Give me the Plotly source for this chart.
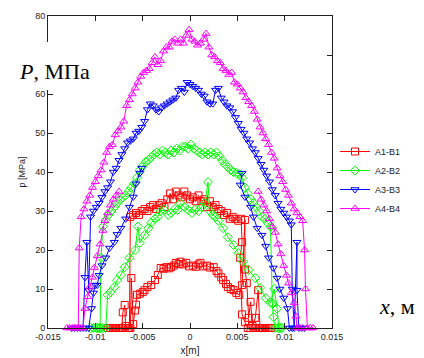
import plotly.graph_objects as go

# ---------------- data ----------------
series_names = ["A1-B1", "A2-B2", "A3-B3", "A4-B4"]
x_tick_vals = [-0.015, -0.01, -0.005, 0, 0.005, 0.01, 0.015]
x_tick_text = ["-0.015", "-0.01", "-0.005", "0", "0.005", "0.01", "0.015"]
y_tick_vals = [0, 10, 20, 30, 40, 50, 60, 70, 80]

# A1-B1 (red) upper profile
a1_outer_x = [-0.0087, -0.0084, -0.0081, -0.0078, -0.0075, -0.0072, -0.0069, -0.0066, -0.0064,
              -0.0063, -0.0060, -0.0057, -0.0054, -0.0051, -0.0048, -0.0045, -0.0042, -0.0039, -0.0036,
              -0.0033, -0.0030, -0.0027, -0.0024, -0.0021, -0.0018, -0.0015, -0.0012, -0.0009, -0.0006,
              -0.0003, 0.0000, 0.0003, 0.0006, 0.0009, 0.0012, 0.0015, 0.0018, 0.0021, 0.0024,
              0.0027, 0.0030, 0.0033, 0.0036, 0.0039, 0.0042, 0.0045, 0.0048, 0.0051, 0.0054,
              0.0055, 0.0053, 0.0055, 0.0058,
              0.0061, 0.0064, 0.0067, 0.0070, 0.0073, 0.0076, 0.0079, 0.0082, 0.0085]
a1_outer_p = [0, 0, 0, 0, 0, 0, 0, 0, 0,
              28.5, 29, 29.5, 29, 30, 30.5, 30, 31, 31.5, 30.5,
              31.5, 32, 31, 33, 34.5, 33, 35, 34, 33.5, 35,
              34, 33, 33.5, 32.5, 34, 32.5, 33, 31, 32.5, 31,
              31.5, 30.5, 30, 29, 29.5, 28, 28.5, 28, 27.5, 28,
              22, 18, 3.5, 1.5,
              0, 0, 0, 0, 0, 0, 0, 0, 0]
# A1-B1 (red) lower profile
a1_inner_x = [-0.0087, -0.0084, -0.0081, -0.0078, -0.0075, -0.0072, -0.0071, -0.0069, -0.0068, -0.0065,
              -0.0063, -0.0062, -0.0060, -0.0058, -0.0057, -0.0056, -0.0053, -0.0050, -0.0048, -0.0045,
              -0.0041, -0.0037, -0.0034, -0.0031, -0.0028, -0.0025, -0.0022, -0.0020, -0.0017, -0.0015,
              -0.0012, -0.0010, -0.0007, -0.0004, -0.0001, 0.0003, 0.0006, 0.0009, 0.0011, 0.0014,
              0.0018, 0.0021, 0.0025, 0.0028, 0.0030, 0.0033, 0.0035, 0.0038, 0.0040, 0.0043,
              0.0046, 0.0049, 0.0052, 0.0055, 0.0058, 0.0058, 0.0060, 0.0062, 0.0064, 0.0066,
              0.0069, 0.0072, 0.0074, 0.0077, 0.0080, 0.0083, 0.0086]
a1_inner_p = [0, 0, 0, 0, 0, 0, 4, 5.9, 0.5, 0,
              0, 12.8, 1, 4.5, 6, 8.5, 8.8, 9.2, 9.7, 10.5,
              11, 12.3, 13.6, 15.4, 15.2, 15.6, 15.3, 15.6, 16, 16.7,
              16.4, 17, 16.3, 16.7, 15.8, 16, 15.7, 16.3, 16.7, 15.8,
              16, 15.5, 15.6, 14.6, 14, 13, 12.3, 11.3, 10.5, 10,
              9.7, 9, 8.5, 11, 27.7, 15, 11.5, 2.6, 6.7, 0.5,
              2.6, 9.7, 0, 0, 0, 0, 0]

# A2-B2 (green) upper profile
a2_outer_x = [-0.0105, -0.0102, -0.0099, -0.0096, -0.0095, -0.0094, -0.0092, -0.0089, -0.0086, -0.0083,
              -0.0080, -0.0077, -0.0074, -0.0071, -0.0068, -0.0065, -0.0062, -0.0059, -0.0056, -0.0053,
              -0.0050, -0.0047, -0.0044, -0.0041, -0.0038, -0.0035, -0.0032, -0.0029, -0.0026, -0.0023,
              -0.0020, -0.0017, -0.0014, -0.0011, -0.0008, -0.0005, -0.0002, 0.0001, 0.0004, 0.0007,
              0.0010, 0.0013, 0.0016, 0.0019, 0.0022, 0.0025, 0.0028, 0.0031, 0.0034, 0.0037,
              0.0040, 0.0043, 0.0046, 0.0049, 0.0052, 0.0055, 0.0058, 0.0061, 0.0064, 0.0067,
              0.0070, 0.0073, 0.0076, 0.0079, 0.0082, 0.0085, 0.0087, 0.0088, 0.0090, 0.0093,
              0.0096]
a2_outer_p = [0, 0, 0, 0, 0, 18, 26, 27.7, 29, 30,
              31, 32, 32.8, 33.5, 34, 35, 36, 37, 38.5, 40.5,
              41.5, 42.6, 43, 43.8, 44.5, 45, 44.5, 45.5, 45, 44.5,
              45.5, 45, 46, 45.5, 46.5, 46.5, 46, 47, 46, 45.5,
              45, 44.5, 45, 44.5, 45, 44.5, 45, 44, 43, 42,
              41.3, 40.5, 40, 39.7, 39.5, 38.5, 36, 34.5, 33, 32,
              31, 30, 28.5, 28, 27, 26, 6.4, 2.8, 0, 0,
              0]
# A2-B2 (green) lower profile
a2_inner_x = [-0.0098, -0.0095, -0.0092, -0.0089, -0.0087, -0.0084, -0.0080, -0.0077, -0.0073, -0.0069,
              -0.0064, -0.0058, -0.0055, -0.0053, -0.0048, -0.0044, -0.0041, -0.0037, -0.0034, -0.0031,
              -0.0027, -0.0023, -0.0020, -0.0016, -0.0013, -0.0010, -0.0006, -0.0002, 0.0002, 0.0005,
              0.0009, 0.0012, 0.0016, 0.0019, 0.0021, 0.0024, 0.0027, 0.0030, 0.0035, 0.0040,
              0.0046, 0.0051, 0.0056, 0.0062, 0.0069, 0.0074, 0.0080, 0.0085, 0.0089, 0.0092,
              0.0094, 0.0097]
a2_inner_p = [0, 0, 0, 0, 8.5, 9.2, 10.5, 12.3, 13.6, 15.6,
              18, 20, 26, 21.8, 23.8, 25.6, 27, 28, 28.5, 30,
              30.3, 29, 29.5, 30.5, 30.3, 32, 31, 30.3, 29.5, 30.3,
              30, 31, 32, 37.4, 30, 29, 28.5, 27.5, 25.6, 23.3,
              21.3, 19.2, 17, 14.9, 12.8, 10.3, 7.7, 6.5, 10, 5,
              0, 0]

# A3-B3 (blue) upper profile
a3_outer_x = [-0.0125, -0.0122, -0.0119, -0.0116, -0.0113, -0.0111, -0.0109, -0.0107, -0.0105, -0.0102,
              -0.0099, -0.0096, -0.0093, -0.0090, -0.0087, -0.0084, -0.0081, -0.0078, -0.0075, -0.0072,
              -0.0069, -0.0066, -0.0063, -0.0060, -0.0057, -0.0054, -0.0051, -0.0048, -0.0045, -0.0042,
              -0.0039, -0.0036, -0.0033, -0.0030, -0.0027, -0.0024, -0.0021, -0.0018, -0.0015, -0.0012,
              -0.0009, -0.0006, -0.0003, 0.0000, 0.0003, 0.0006, 0.0009, 0.0012, 0.0015, 0.0018,
              0.0021, 0.0024, 0.0027, 0.0030, 0.0033, 0.0036, 0.0039, 0.0042, 0.0045, 0.0048,
              0.0051, 0.0054, 0.0057, 0.0060, 0.0063, 0.0066, 0.0069, 0.0072, 0.0075, 0.0078,
              0.0081, 0.0084, 0.0087, 0.0090, 0.0093, 0.0096, 0.0099, 0.0102, 0.0105, 0.0107,
              0.0108, 0.0110, 0.0113, 0.0113, 0.0115, 0.0118, 0.0121]
a3_outer_p = [0, 0, 0, 0, 0, 13, 22, 9.7, 28.5, 30,
              31, 32, 33.5, 35, 36, 37.5, 40, 41, 43, 44.5,
              46, 47.5, 48, 48.5, 50, 50.5, 51.5, 53, 56, 57.5,
              57, 56, 55.5, 56.5, 57, 57.5, 58, 58.5, 59, 61,
              61.5, 60.5, 63, 62.5, 62, 61.5, 61, 60, 59.5, 58,
              57.5, 57.5, 61, 61.5, 59, 58, 57, 56.5, 55.5, 54,
              52.5, 51, 50, 48.5, 47.5, 46, 45, 43.5, 42, 40.5,
              39, 37.5, 35.5, 34, 32, 30.5, 29.5, 28.5, 27.5, 26.5,
              10, 0, 22, 9.7, 0, 0, 0]
# A3-B3 (blue) lower profile, left and right flanks
a3_inner_left_x = [-0.0110, -0.0107, -0.0104, -0.0102, -0.0100, -0.0098, -0.0096, -0.0093, -0.0089, -0.0085,
                   -0.0080, -0.0077, -0.0073, -0.0068, -0.0064, -0.0060, -0.0057, -0.0053, -0.0051]
a3_inner_left_p = [0, 0, 5, 9, 11, 11, 13.5, 16, 18, 20.5,
                   22, 24, 25.6, 28, 31, 33.6, 37, 39.7, 41]
a3_inner_right_x = [0.0055, 0.0053, 0.0058, 0.0064, 0.0067, 0.0071, 0.0076, 0.0080, 0.0083, 0.0088,
                    0.0092, 0.0095, 0.0099, 0.0103, 0.0105, 0.0108]
a3_inner_right_p = [39.7, 36.7, 33.6, 31, 28.5, 25.6, 23.8, 21, 18, 15.4,
                    12.8, 10, 7.7, 5, 0, 0]

# A4-B4 (magenta) upper profile
a4_outer_x = [-0.0130, -0.0127, -0.0124, -0.0121, -0.0118, -0.0117, -0.0115, -0.0112, -0.0109, -0.0106,
              -0.0103, -0.0100, -0.0097, -0.0094, -0.0091, -0.0088, -0.0085, -0.0082, -0.0079, -0.0076,
              -0.0073, -0.0070, -0.0067, -0.0064, -0.0061, -0.0058, -0.0055, -0.0052, -0.0049, -0.0046,
              -0.0043, -0.0040, -0.0037, -0.0034, -0.0031, -0.0028, -0.0025, -0.0022, -0.0019, -0.0016,
              -0.0013, -0.0010, -0.0007, -0.0004, -0.0001, 0.0002, 0.0005, 0.0008, 0.0011, 0.0014,
              0.0017, 0.0020, 0.0023, 0.0026, 0.0029, 0.0032, 0.0035, 0.0038, 0.0041, 0.0044,
              0.0047, 0.0050, 0.0053, 0.0056, 0.0059, 0.0062, 0.0065, 0.0068, 0.0071, 0.0074,
              0.0077, 0.0080, 0.0083, 0.0086, 0.0089, 0.0092, 0.0095, 0.0098, 0.0101, 0.0104,
              0.0107, 0.0110, 0.0113, 0.0116, 0.0119, 0.0121, 0.0122, 0.0124, 0.0127, 0.0130]
a4_outer_p = [0, 0, 0, 0, 0, 20.5, 28.5, 30.5, 32.5, 34,
              36, 37.5, 39, 40.5, 42.5, 45, 46.5, 47, 49.5, 50.5,
              51.5, 53, 57, 58.5, 60, 61.5, 63, 64.5, 65.5, 66,
              66.5, 68, 69.5, 67.5, 68.5, 71, 72, 72, 73.5, 74,
              73, 74, 73, 75, 76.5, 74, 73.5, 72.5, 73, 74,
              75.5, 72, 70, 69.5, 68.5, 68, 66.5, 66, 65, 65.5,
              63, 62.5, 61.5, 60.5, 59, 58, 57, 55.5, 53.5, 51.5,
              50, 48.5, 47, 45, 43.5, 41, 39, 37.5, 35.5, 34,
              32, 30.5, 29.5, 28.5, 27.5, 20, 10, 0, 0, 0]
# A4-B4 (magenta) lower profile, left and right flanks
a4_inner_left_x = [-0.0122, -0.0119, -0.0116, -0.0113, -0.0111, -0.0108, -0.0106, -0.0103, -0.0101, -0.0098,
                   -0.0095, -0.0092, -0.0090, -0.0087, -0.0084, -0.0081, -0.0078, -0.0075]
a4_inner_left_p = [0, 0, 0, 0, 5, 8, 10.5, 13, 15.5, 18.5,
                   21.5, 25, 27.5, 29.5, 31.5, 33, 34, 35]
a4_inner_right_x = [0.0072, 0.0075, 0.0078, 0.0081, 0.0084, 0.0087, 0.0090, 0.0093, 0.0096, 0.0099,
                    0.0102, 0.0104, 0.0107, 0.0110, 0.0112, 0.0113, 0.0116, 0.0119]
a4_inner_right_p = [35, 33, 31.5, 30, 28, 26, 24.5, 21.5, 19, 16,
                    13.5, 11.5, 9, 6.5, 3, 0, 0, 0]

# ---------------- figure ----------------
# the page body adds an 8px margin, so the figure is made 8px smaller
OFF = 8
W, H = 424 - OFF, 358 - OFF
ML, MR, MT, MB = 48 - OFF, 92, 16 - OFF, 30
PW, PH = W - ML - MR, H - MT - MB


def px_x(sx):  # screen px -> paper
    return (sx - OFF - ML) / PW


def px_y(sy):
    return (H - MB - (sy - OFF)) / PH


def join(*segs):
    xs, ys = [], []
    for i, (sx, sy) in enumerate(segs):
        assert len(sx) == len(sy)
        if i:
            xs.append(None)
            ys.append(None)
        xs += list(sx)
        ys += list(sy)
    return xs, ys


styles = [
    ("#FF0000", "square-open", 7),
    ("#00FF00", "diamond-open", 7),
    ("#0000FF", "triangle-down-open", 7),
    ("#FF00FF", "triangle-up-open", 7),
]
segments = [
    [(a1_outer_x, a1_outer_p), (a1_inner_x, a1_inner_p)],
    [(a2_outer_x, a2_outer_p), (a2_inner_x, a2_inner_p)],
    [(a3_outer_x, a3_outer_p), (a3_inner_left_x, a3_inner_left_p), (a3_inner_right_x, a3_inner_right_p)],
    [(a4_outer_x, a4_outer_p), (a4_inner_left_x, a4_inner_left_p), (a4_inner_right_x, a4_inner_right_p)],
]

fig = go.Figure()
for name, (color, sym, size), segs in zip(series_names, styles, segments):
    xs, ys = join(*segs)
    fig.add_trace(go.Scatter(
        x=xs, y=ys, name=name, mode="lines+markers", connectgaps=False, cliponaxis=False,
        line=dict(color=color, width=1),
        marker=dict(symbol=sym, size=size, color=color, line=dict(color=color, width=1)),
    ))

axis_common = dict(
    showline=True, linecolor="#222", linewidth=1, mirror="ticks",
    ticks="inside", ticklen=5, tickwidth=1, tickcolor="#222",
    showgrid=False, zeroline=False, automargin=False,
    tickfont=dict(family="Liberation Sans, Arial", size=9, color="#222"),
)
fig.update_xaxes(range=[-0.015, 0.015], tickmode="array", tickvals=x_tick_vals, ticktext=x_tick_text,
                 title=dict(text="x[m]", font=dict(family="Liberation Sans, Arial", size=10, color="#222"),
                            standoff=6),
                 **axis_common)
fig.update_yaxes(range=[0, 80], tickmode="array", tickvals=y_tick_vals,
                 title=dict(text="p [MPa]", font=dict(family="Liberation Sans, Arial", size=9, color="#222"),
                            standoff=8),
                 **axis_common)

fig.update_layout(
    width=W, height=H, margin=dict(l=ML, r=MR, t=MT, b=MB, autoexpand=False),
    paper_bgcolor="white", plot_bgcolor="white",
    legend=dict(x=px_x(335), y=px_y(137), xanchor="left", yanchor="top",
                font=dict(family="Liberation Sans, Arial", size=9, color="#222"),
                bgcolor="rgba(0,0,0,0)", tracegroupgap=0, itemwidth=30),
    shapes=[dict(type="rect", xref="paper", yref="paper",
                 x0=px_x(4), x1=px_x(100), y0=px_y(90), y1=px_y(42),
                 fillcolor="white", line=dict(width=0), layer="above")],
    annotations=[
        dict(text="<i>P</i>, МПа", xref="paper", yref="paper", x=px_x(17), y=px_y(71),
             xanchor="left", yanchor="middle", showarrow=False,
             font=dict(family="Liberation Serif, Times New Roman", size=22, color="black")),
        dict(text="<i>x</i>, м", xref="paper", yref="paper", x=px_x(377), y=px_y(306),
             xanchor="left", yanchor="middle", showarrow=False,
             font=dict(family="Liberation Serif, Times New Roman", size=22, color="black")),
    ],
)

fig.write_html("out.html")
